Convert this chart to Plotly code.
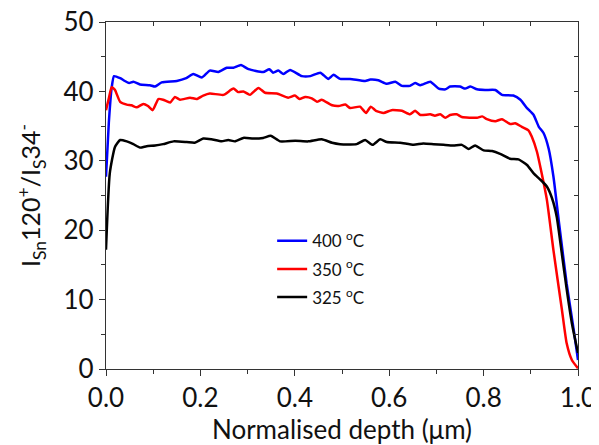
import plotly.graph_objects as go

x_400 = [0.000, 0.006, 0.012, 0.017, 0.030, 0.040, 0.049, 0.058, 0.072, 0.093, 0.104, 0.118,
         0.150, 0.170, 0.185, 0.203, 0.220, 0.238, 0.256, 0.270, 0.286, 0.302, 0.333, 0.346,
         0.354, 0.365, 0.376, 0.390, 0.415, 0.433, 0.454, 0.471, 0.482, 0.496, 0.517, 0.549,
         0.560, 0.577, 0.595, 0.613, 0.627, 0.644, 0.655, 0.666, 0.687, 0.705, 0.719, 0.729,
         0.750, 0.761, 0.772, 0.786, 0.803, 0.825, 0.839, 0.863, 0.878, 0.892, 0.906, 0.917,
         0.927, 0.938, 0.948, 0.959, 0.976, 0.991, 1.000]
y_400 = [27.7, 35.5, 40.5, 42.2, 41.9, 41.5, 41.2, 41.4, 41.0, 40.9, 40.7, 41.3,
         41.5, 41.9, 42.5, 42.0, 43.0, 42.8, 43.4, 43.4, 43.8, 43.2, 42.8, 43.2,
         42.7, 43.0, 42.5, 43.1, 42.2, 42.2, 42.7, 41.8, 42.4, 41.8, 41.8, 41.5,
         41.7, 41.6, 41.1, 41.4, 40.8, 40.8, 41.2, 40.9, 41.4, 40.4, 40.3, 40.7,
         40.7, 40.4, 40.7, 40.3, 40.2, 40.2, 39.5, 39.4, 38.8, 37.6, 36.6, 34.9,
         34.0, 31.7, 27.7, 21.5, 12.3, 5.6, 1.3]

x_350 = [0.000, 0.006, 0.012, 0.019, 0.030, 0.044, 0.054, 0.065, 0.079, 0.089, 0.099, 0.111,
         0.121, 0.136, 0.146, 0.157, 0.178, 0.192, 0.206, 0.220, 0.249, 0.270, 0.280, 0.291,
         0.305, 0.323, 0.337, 0.362, 0.386, 0.400, 0.410, 0.422, 0.436, 0.447, 0.457, 0.479,
         0.493, 0.507, 0.517, 0.538, 0.551, 0.561, 0.572, 0.588, 0.605, 0.627, 0.644, 0.655,
         0.666, 0.687, 0.697, 0.708, 0.719, 0.729, 0.743, 0.754, 0.786, 0.797, 0.807, 0.825,
         0.839, 0.856, 0.867, 0.881, 0.895, 0.902, 0.913, 0.923, 0.934, 0.948, 0.966, 0.976,
         0.987, 1.000]
y_350 = [37.3, 39.0, 40.6, 40.2, 38.5, 38.1, 38.0, 37.7, 38.2, 37.9, 37.3, 38.9,
         38.8, 38.4, 39.2, 38.8, 39.1, 38.9, 39.4, 39.7, 39.5, 40.4, 39.9, 40.0,
         39.5, 40.5, 39.8, 39.7, 39.1, 39.4, 38.9, 39.2, 39.0, 38.5, 38.8, 38.0,
         37.9, 38.1, 37.6, 37.8, 36.9, 37.8, 37.2, 36.9, 37.3, 37.2, 36.7, 37.2,
         36.6, 36.7, 36.5, 36.7, 36.2, 36.6, 36.7, 36.3, 36.2, 36.4, 36.0, 35.7,
         36.0, 35.3, 35.4, 34.9, 34.4, 33.5, 31.3, 28.2, 24.4, 17.1, 8.5, 3.7,
         1.3, 0.1]

x_325 = [0.000, 0.008, 0.019, 0.030, 0.044, 0.058, 0.072, 0.086, 0.104, 0.121, 0.143, 0.171,
         0.188, 0.206, 0.223, 0.245, 0.259, 0.273, 0.291, 0.312, 0.333, 0.349, 0.369, 0.401,
         0.428, 0.457, 0.479, 0.496, 0.531, 0.549, 0.565, 0.581, 0.595, 0.623, 0.652, 0.672,
         0.694, 0.715, 0.736, 0.754, 0.768, 0.782, 0.800, 0.818, 0.835, 0.856, 0.874, 0.892,
         0.906, 0.920, 0.934, 0.945, 0.955, 0.966, 0.976, 0.987, 1.000]
y_325 = [17.2, 28.2, 32.0, 33.0, 32.8, 32.4, 31.9, 32.1, 32.2, 32.4, 32.8, 32.7,
         32.6, 33.2, 33.1, 32.8, 33.0, 32.8, 33.3, 33.2, 33.3, 33.6, 32.8, 32.9,
         32.8, 33.1, 32.6, 32.4, 32.4, 33.0, 32.3, 33.1, 32.7, 32.6, 32.3, 32.5,
         32.4, 32.3, 32.2, 32.3, 31.7, 32.2, 31.5, 31.4, 31.0, 30.3, 30.2, 29.4,
         28.2, 27.3, 26.3, 24.6, 21.9, 16.5, 11.5, 6.6, 2.3]

series = [
    ('400 <sup>o</sup>C', x_400, y_400, '#0000ff'),
    ('350 <sup>o</sup>C', x_350, y_350, '#ff0000'),
    ('325 <sup>o</sup>C', x_325, y_325, '#000000'),
]

FONT = 'Lato, Carlito, Noto Sans, sans-serif'
AX = '#333333'

fig = go.Figure()
for name, xs, ys, col in series:
    fig.add_trace(go.Scatter(x=xs, y=ys, name=name, mode='lines', legendgroup=name,
                             line=dict(color=col, width=2.5, shape='spline', smoothing=0.5)))

# invisible trace so the top/right tick-only axes get drawn
fig.add_trace(go.Scatter(x=[0, 1], y=[0, 50], xaxis='x2', yaxis='y2', mode='markers',
                         marker=dict(opacity=0), showlegend=False, hoverinfo='skip'))

# the page body adds an 8px offset, so margins are shifted to compensate
fig.update_layout(
    width=599, height=445,
    margin=dict(l=98, r=29, t=14, b=84),
    paper_bgcolor='white', plot_bgcolor='white',
    font=dict(family=FONT, color='#111111'),
    showlegend=True,
    legend=dict(x=0.352, y=0.42, xanchor='left', yanchor='top', tracegroupgap=3,
                bgcolor='rgba(0,0,0,0)', font=dict(size=17, family=FONT)),
    xaxis=dict(range=[0, 1], dtick=0.2, tickformat='.1f', showgrid=False, zeroline=False,
               automargin=False, ticklabeloverflow='allow',
               showline=True, linecolor=AX, linewidth=1.2, ticks='outside', ticklen=6,
               tickcolor=AX, tickfont=dict(size=26),
               minor=dict(dtick=0.1, ticks='outside', ticklen=4, tickcolor=AX),
               title=dict(text='Normalised depth (μm)', font=dict(size=26), standoff=2)),
    yaxis=dict(range=[0, 50], dtick=10, showgrid=False, zeroline=False,
               automargin=False, ticklabeloverflow='allow',
               showline=True, linecolor=AX, linewidth=1.2, ticks='outside', ticklen=6,
               tickcolor=AX, tickfont=dict(size=26),
               minor=dict(dtick=5, ticks='outside', ticklen=4, tickcolor=AX),
               title=dict(text='I<sub>Sn</sub>120<sup>+</sup>/I<sub>S</sub>34<sup>-</sup>',
                          font=dict(size=25), standoff=15)),
    xaxis2=dict(overlaying='x', side='top', anchor='y2', range=[0, 1], dtick=0.1,
                showticklabels=False, showgrid=False, zeroline=False, showline=True,
                linecolor=AX, linewidth=1.2, ticks='inside', ticklen=4, tickcolor=AX),
    yaxis2=dict(overlaying='y', side='right', anchor='x2', range=[0, 50], dtick=5,
                showticklabels=False, showgrid=False, zeroline=False, showline=True,
                linecolor=AX, linewidth=1.2, ticks='inside', ticklen=4, tickcolor=AX),
)

fig.write_html('out.html')
